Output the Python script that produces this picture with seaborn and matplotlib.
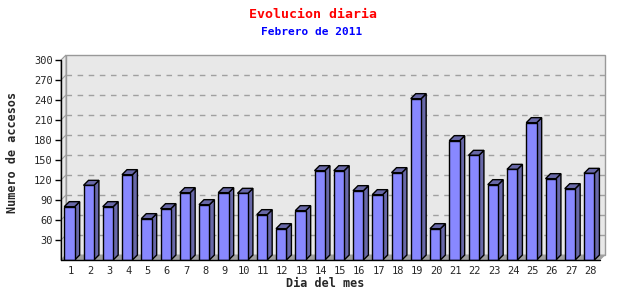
import matplotlib
matplotlib.use("Agg")
import matplotlib.pyplot as plt
from matplotlib.patches import Polygon
import seaborn as sns
import pandas as pd

# ---- data ----
days = [str(d) for d in range(1, 29)]
accesos = [80, 112, 80, 128, 62, 77, 101, 83, 101, 100, 68, 47, 74, 134,
           134, 104, 98, 131, 242, 47, 179, 157, 113, 136, 206, 122, 107, 130]
yticks = [30, 60, 90, 120, 150, 180, 210, 240, 270, 300]
title = "Evolucion diaria"
subtitle = "Febrero de 2011"
xlabel = "Dia del mes"
ylabel = "Numero de accesos"

df = pd.DataFrame({"dia": days, "accesos": accesos})

sns.set_style("white")
plt.rcParams["font.family"] = ["DejaVu Sans Mono", "DejaVu Sans"]

W, H = 640, 300
fig = plt.figure(figsize=(6.4, 3.0), dpi=100)
# front axis: x 61..600 px, y 260 (value 0) .. 60 (value 300) from top
L, R, B, T = 61, 600, 260, 60
ax = fig.add_axes([L / W, (H - B) / H, (R - L) / W, (B - T) / H])
ax.set_xlim(-0.5, 27.5)
ax.set_ylim(0, 300)
ax.patch.set_visible(False)
for s in ax.spines.values():
    s.set_visible(False)

px_x = (R - L) / 28.0          # pixels per x unit
px_y = (B - T) / 300.0         # pixels per y unit
dpx = 5.0                      # 3D depth in pixels
ddx = dpx / px_x
ddy = dpx / px_y

back = "#e8e8e8"
# back wall
ax.add_patch(Polygon([(-0.5 + ddx, ddy), (27.5 + ddx, ddy), (27.5 + ddx, 300 + ddy),
                      (-0.5 + ddx, 300 + ddy)], closed=True, facecolor=back,
                     edgecolor="#999999", lw=1.0, zorder=0, clip_on=False))
# left wall
ax.add_patch(Polygon([(-0.5, 0), (-0.5 + ddx, ddy), (-0.5 + ddx, 300 + ddy), (-0.5, 300)],
                     closed=True, facecolor=back, edgecolor="#999999", lw=0.8,
                     zorder=0, clip_on=False))
# floor
ax.add_patch(Polygon([(-0.5, 0), (27.5, 0), (27.5 + ddx, ddy), (-0.5 + ddx, ddy)],
                     closed=True, facecolor="#a0a0a0", edgecolor="#a0a0a0", lw=0.5,
                     zorder=0.5, clip_on=False))
# gridlines on back wall
for v in yticks[:-1]:
    ax.plot([-0.5 + ddx, 27.5 + ddx], [v + ddy, v + ddy], color="#a0a0a0", lw=1.0,
            ls=(0, (4, 4)), zorder=0.6, clip_on=False)
    ax.plot([-0.5, -0.5 + ddx], [v, v + ddy], color="#a0a0a0", lw=0.8, zorder=0.6,
            clip_on=False)

sns.barplot(data=df, x="dia", y="accesos", ax=ax, color="#8888ff", width=0.54,
            saturation=1, edgecolor="black", linewidth=1.0, zorder=2)

side_c = "#6868a8"
for p in list(ax.patches):
    if p.get_zorder() != 2:
        continue
    p.set_x(p.get_x() - 0.06)
    x0, w, h = p.get_x(), p.get_width(), p.get_height()
    x1 = x0 + w
    ax.add_patch(Polygon([(x1, 0), (x1 + ddx, ddy), (x1 + ddx, h + ddy), (x1, h)],
                         closed=True, facecolor=side_c, edgecolor="black", lw=1.0,
                         zorder=1.9, clip_on=False))
    ax.add_patch(Polygon([(x0, h), (x1, h), (x1 + ddx, h + ddy), (x0 + ddx, h + ddy)],
                         closed=True, facecolor=side_c, edgecolor="black", lw=1.0,
                         zorder=1.9, clip_on=False))

# front axes lines
ax.plot([-0.5, -0.5], [0, 300], color="black", lw=1.0, zorder=3, clip_on=False)
ax.plot([-0.5, 27.5], [0, 0], color="black", lw=1.0, zorder=3, clip_on=False)

ax.set_yticks(yticks)
ax.set_yticklabels([str(v) for v in yticks])
ax.set_xticks(range(28))
ax.set_xticklabels(days)
ax.set_xticks([i - 0.5 for i in range(29)], minor=True)
ax.tick_params(axis="x", which="major", length=0, pad=4, labelsize=7.5)
ax.tick_params(axis="x", which="minor", length=4, width=1, color="black", direction="out")
ax.tick_params(axis="y", which="major", length=4, width=1, color="black", direction="out",
               pad=2, labelsize=7.5, left=True)
ax.set_xlabel(xlabel, fontsize=8.5, fontweight="bold")
ax.set_ylabel(ylabel, fontsize=8.5, fontweight="bold")
ax.xaxis.set_label_coords(0.49, -0.085)
ax.yaxis.set_label_coords(-0.078, 0.54)

fig.text(313 / W, 1 - 14 / H, title, color="red", fontsize=9.5, fontweight="bold",
         ha="center", va="center")
fig.text(312 / W, 1 - 32 / H, subtitle, color="blue", fontsize=8, fontweight="bold",
         ha="center", va="center")

fig.savefig("out.png", dpi=100)
